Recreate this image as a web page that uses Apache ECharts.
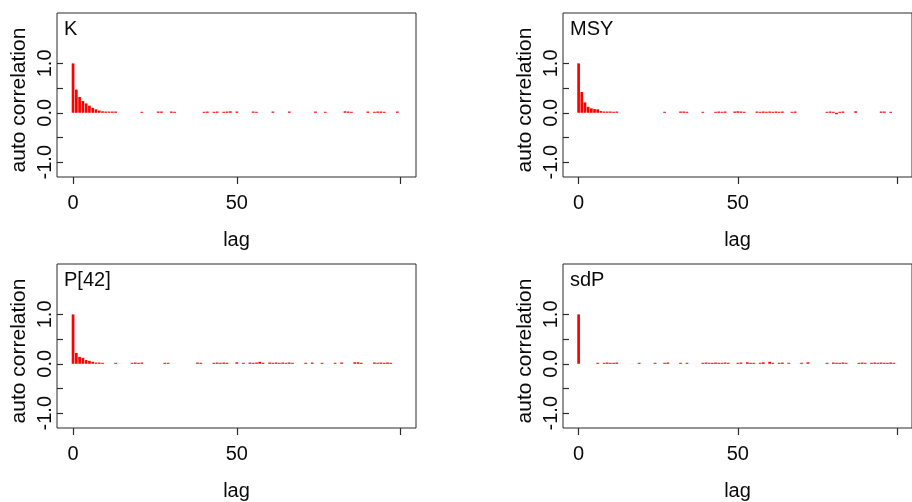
<!DOCTYPE html>
<html>
<head>
<meta charset="utf-8">
<script src="https://cdn.jsdelivr.net/npm/echarts@6/dist/echarts.min.js"></script>
<style>
  html, body { margin: 0; padding: 0; background: #fff; }
  #chart { width: 912px; height: 502px; }
</style>
</head>
<body>
<div id="chart"></div>
<script>
// Autocorrelation of MCMC chains, one panel per parameter.
const panelNames = ['K', 'MSY', 'P[42]', 'sdP'];

// K
const lagsK = [0, 1, 2, 3, 4, 5, 6, 7, 8, 9, 10, 11, 12, 13,
  21, 26, 27, 30, 31, 40, 41, 43, 44, 46, 47, 48, 50, 55, 56, 61, 66, 74, 77,
  83, 84, 85, 90, 92, 93, 94, 95, 99];
const acfK = [1.0, 0.47, 0.32, 0.24, 0.19, 0.145, 0.10, 0.07, 0.045, 0.03, 0.025, 0.025, 0.025, 0.025,
  0.02, 0.025, 0.025, 0.025, 0.02, 0.02, 0.025, 0.02, 0.025, 0.02, 0.025, 0.03, 0.025, 0.025, 0.02,
  0.025, 0.025, 0.025, 0.02, 0.03, 0.025, 0.02, 0.025, 0.02, 0.025, 0.025, 0.02, 0.025];

// MSY
const lagsMSY = [0, 1, 2, 3, 4, 5, 6, 7, 8, 9, 10, 11, 12,
  27, 32, 33, 34, 39, 43, 44, 45, 46, 49, 50, 51, 52, 56, 57, 58, 59, 60, 61, 62, 63, 64,
  67, 68, 78, 79, 80, 81, 82, 83, 87, 95, 96, 98];
const acfMSY = [1.0, 0.42, 0.21, 0.12, 0.09, 0.075, 0.07, 0.035, 0.025, 0.025, 0.025, 0.02, 0.025,
  0.02, 0.025, 0.025, 0.02, 0.02, 0.02, 0.025, 0.02, 0.025, 0.025, 0.03, 0.025, 0.02, 0.025, 0.02,
  0.025, 0.02, 0.025, 0.02, 0.025, 0.02, 0.025, 0.02, 0.025, 0.02, 0.025, 0.02, -0.03, 0.02, 0.025,
  0.03, 0.025, 0.025, 0.02];

// P[42]
const lagsP42 = [0, 1, 2, 3, 4, 5, 6, 7, 8, 9,
  13, 18, 19, 20, 21, 28, 29, 38, 39, 43, 44, 45, 46, 47, 50, 52, 54, 55, 56, 57, 58,
  60, 61, 62, 63, 64, 65, 66, 67, 71, 73, 76, 80, 82, 86, 87, 88, 92, 93, 94, 95, 96, 97];
const acfP42 = [1.0, 0.22, 0.14, 0.12, 0.075, 0.06, 0.04, 0.025, 0.025, 0.02,
  0.02, 0.02, 0.025, 0.02, 0.025, 0.02, 0.02, 0.025, 0.02, 0.02, 0.025, 0.02, 0.025, 0.02,
  0.03, 0.02, 0.025, 0.02, 0.025, 0.04, 0.02, 0.025, 0.02, 0.025, 0.02, 0.025, 0.02, 0.025,
  0.02, 0.02, 0.025, 0.02, 0.02, 0.025, 0.03, 0.03, 0.02, 0.025, 0.02, 0.025, 0.02, 0.025, 0.02];

// sdP
const lagsSdP = [0, 6, 8, 9, 10, 11, 12, 19, 24, 27, 28, 32, 34, 39, 40, 41, 42, 43, 44, 45, 46, 47,
  50, 51, 53, 54, 55, 57, 58, 60, 61, 63, 64, 66, 70, 72, 78, 80, 81, 82, 83, 84,
  88, 89, 90, 92, 93, 94, 95, 96, 97, 98, 99];
const acfSdP = [1.0, 0.02, 0.02, 0.025, 0.02, 0.02, 0.025, 0.02, 0.02, 0.02, 0.025, 0.02, 0.02,
  0.02, 0.025, 0.02, 0.02, 0.025, 0.02, 0.02, 0.025, 0.02, 0.02, 0.025, 0.03, 0.02, 0.02,
  0.02, 0.03, 0.04, 0.02, 0.02, 0.025, 0.02, 0.02, 0.03, 0.02, 0.025, 0.02, 0.02, 0.025, 0.02,
  0.02, 0.025, 0.02, 0.02, 0.025, 0.02, 0.025, 0.02, 0.02, 0.025, 0.02];

const panelLags = [lagsK, lagsMSY, lagsP42, lagsSdP];
const panelAcf = [acfK, acfMSY, acfP42, acfSdP];

// Axis ticks and labels
const xTickValues = [0, 50, 100];
const xLabelValues = [0, 50];
const yTickValues = [-1, -0.5, 0, 0.5, 1];
const yLabelValues = [-1, 0, 1];

const FONT = "'Liberation Sans', Arial, sans-serif";
const INK = '#0a0a0a';
const FRAME = '#2b2b2b';

// plotting regions (left, top) of the four frames
const frames = [
  { left: 57, top: 13 },
  { left: 563, top: 13 },
  { left: 57, top: 264 },
  { left: 563, top: 264 }
];
const frameW = 359, frameH = 164;

const grid = [], xAxis = [], yAxis = [], series = [], title = [];

frames.forEach((f, i) => {
  grid.push({
    left: f.left, top: f.top, width: frameW, height: frameH,
    show: true, borderColor: FRAME, borderWidth: 1, backgroundColor: 'transparent'
  });
  xAxis.push({
    type: 'value', gridIndex: i, min: -4.9, max: 104.7,
    name: 'lag', nameLocation: 'middle', nameGap: 53,
    nameTextStyle: { fontFamily: FONT, fontSize: 20, color: INK },
    axisLine: { show: false, onZero: false },
    splitLine: { show: false },
    axisTick: { show: true, customValues: xTickValues, length: 7, lineStyle: { color: FRAME, width: 1.2 } },
    axisLabel: { show: true, customValues: xLabelValues, margin: 16, fontFamily: FONT, fontSize: 20, color: INK }
  });
  yAxis.push({
    type: 'value', gridIndex: i, min: -1.3, max: 2.02,
    name: 'auto correlation', nameLocation: 'middle', nameGap: 27,
    nameTextStyle: { fontFamily: FONT, fontSize: 21, color: INK, padding: [0, 10, 0, 0] },
    axisLine: { show: false, onZero: false },
    splitLine: { show: false },
    axisTick: { show: true, inside: true, customValues: yTickValues, length: 6, lineStyle: { color: FRAME, width: 1.2 } },
    axisLabel: {
      show: true, customValues: yLabelValues, rotate: 90, margin: 2,
      fontFamily: FONT, fontSize: 20, color: INK,
      formatter: v => Number(v).toFixed(1)
    }
  });
  title.push({
    text: panelNames[i], left: f.left + 7, top: f.top + 6, padding: 0,
    textStyle: { fontFamily: FONT, fontSize: 20, fontWeight: 'normal', color: INK }
  });
  series.push({
    type: 'bar', xAxisIndex: i, yAxisIndex: i,
    barWidth: 2.7,
    itemStyle: { color: '#ff0000' },
    data: panelLags[i].map((lag, k) => [lag, panelAcf[i][k]]),
    silent: true
  });
});

const chart = echarts.init(document.getElementById('chart'), null, { renderer: 'canvas' });
chart.setOption({
  animation: false,
  backgroundColor: '#ffffff',
  title, grid, xAxis, yAxis, series
});
</script>
</body>
</html>
